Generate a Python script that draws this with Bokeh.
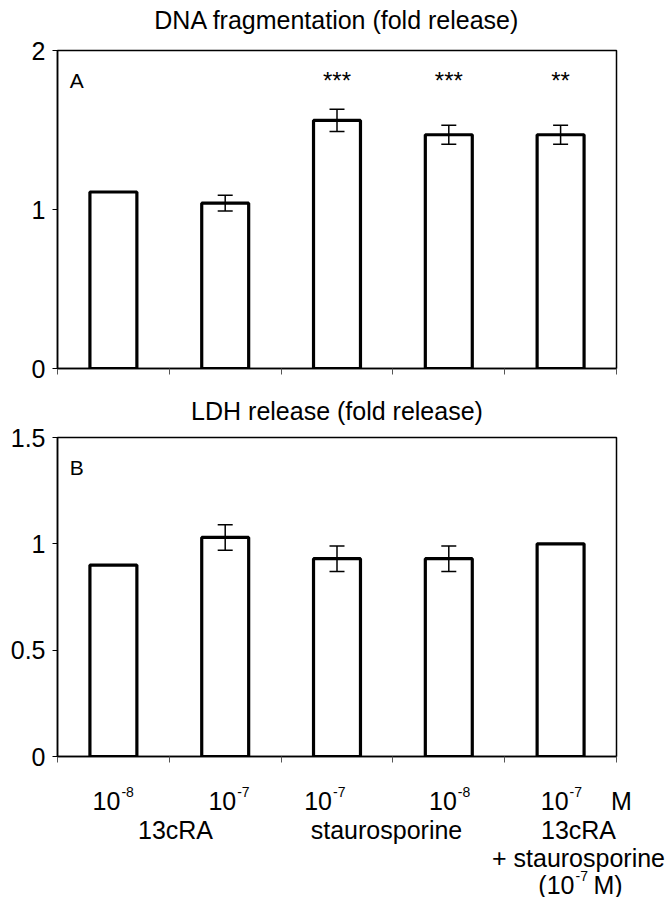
from bokeh.plotting import figure
from bokeh.models import (Range1d, FixedTicker, Whisker, TeeHead, ColumnDataSource,
                          Label, NumeralTickFormatter)
from bokeh.layouts import column
from bokeh.embed import file_html
from bokeh.resources import INLINE
from bokeh.core.properties import value

# ---- data ----
categories = ["13cRA 1e-8", "13cRA 1e-7", "staurosporine 1e-7",
              "staurosporine 1e-8", "13cRA 1e-7 + staurosporine 1e-7"]
dna_values = [1.11, 1.04, 1.56, 1.47, 1.47]
dna_errors = [0.0, 0.05, 0.07, 0.06, 0.06]
dna_stars = ["", "", "***", "***", "**"]
ldh_values = [0.90, 1.03, 0.93, 0.93, 1.00]
ldh_errors = [0.0, 0.06, 0.06, 0.06, 0.0]
conc_base = ["10", "10", "10", "10", "10"]
conc_exp = ["-8", "-7", "-7", "-8", "-7"]
conc_unit = "M"
group_names = ["13cRA", "staurosporine", "13cRA", "+ staurosporine"]
combo_conc = ("(10", "-7", "M)")
title_a = "DNA fragmentation (fold release)"
title_b = "LDH release (fold release)"

# ---- layout constants ----
FONT = "Liberation Sans"
FS = "25px"
W = 668
LEFT, RIGHT = 57, 616
UNIT = (RIGHT - LEFT) / 5.0
xs = [i + 0.5 for i in range(len(categories))]


def px2x(px):
    return (px - LEFT) / UNIT


def text_strip(height, title, center_y):
    s = figure(width=W, height=height, x_range=Range1d(0, W), y_range=Range1d(height, 0),
               x_axis_type=None, y_axis_type=None, output_backend="svg",
               toolbar_location=None, min_border=0)
    s.frame_align = False
    s.grid.visible = False
    s.outline_line_color = None
    s.text(x=[(LEFT + RIGHT) / 2], y=[center_y], text=[title], text_font=value(FONT),
           text_font_size=FS, text_align="center", text_baseline="middle",
           text_color="black")
    return s


def make_panel(values, errors, ymax, yticks, height, btop, bbot, letter):
    p = figure(width=W, height=height, x_range=Range1d(0, 5), y_range=Range1d(0, ymax),
               output_backend="svg", toolbar_location=None,
               min_border_left=LEFT, min_border_right=W - RIGHT,
               min_border_top=btop, min_border_bottom=bbot)
    p.frame_align = False
    p.grid.visible = False
    p.outline_line_color = "black"
    p.outline_line_width = 1.5

    p.yaxis.ticker = FixedTicker(ticks=yticks, minor_ticks=[])
    p.yaxis.formatter = NumeralTickFormatter(format="0.[0]")
    p.yaxis.major_tick_in = 0
    p.yaxis.major_tick_out = 5
    p.yaxis.major_tick_line_color = "black"
    p.yaxis.axis_line_color = "black"
    p.yaxis.axis_line_width = 1.5
    p.yaxis.major_label_text_font = FONT
    p.yaxis.major_label_text_font_size = FS
    p.yaxis.major_label_text_color = "black"
    p.yaxis.major_label_standoff = 7

    boundaries = list(range(len(categories) + 1))
    p.xaxis.ticker = FixedTicker(ticks=boundaries, minor_ticks=[])
    p.xaxis.major_label_overrides = {b: "" for b in boundaries}
    p.xaxis.major_tick_in = 0
    p.xaxis.major_tick_out = 6
    p.xaxis.major_tick_line_color = "#555555"
    p.xaxis.axis_line_color = "black"
    p.xaxis.axis_line_width = 1.5

    src = ColumnDataSource(dict(x=xs, top=values))
    p.vbar(x="x", top="top", bottom=0, width=0.42, source=src,
           fill_color="white", line_color="black", line_width=3.2)

    ex = [x for x, e in zip(xs, errors) if e > 0]
    ev = [v for v, e in zip(values, errors) if e > 0]
    ee = [e for e in errors if e > 0]
    esrc = ColumnDataSource(dict(x=ex, upper=[v + e for v, e in zip(ev, ee)],
                                 lower=[v - e for v, e in zip(ev, ee)]))
    w = Whisker(base="x", upper="upper", lower="lower", source=esrc,
                line_color="black", line_width=1.5, level="annotation",
                upper_head=TeeHead(size=15, line_width=1.5, line_color="black"),
                lower_head=TeeHead(size=15, line_width=1.5, line_color="black"))
    p.add_layout(w)

    p.add_layout(Label(x=0.11, y=ymax * 0.905, text=letter, text_font=FONT,
                       text_font_size="21px", text_align="left", text_baseline="middle",
                       text_color="black"))
    return p


# title A strip: 0..36, panel A: 36..390 (frame 50..368)
tA = text_strip(36, title_a, 19)
p1 = make_panel(dna_values, dna_errors, 2, [0, 1, 2], 354, 14, 22, "A")
star_x = [x for x, s in zip(xs, dna_stars) if s]
star_t = [s for s in dna_stars if s]
p1.text(x=star_x, y=1.81, text=star_t, text_font=value(FONT), text_font_size="24px",
        text_align="center", text_baseline="middle", text_color="black")

# title B strip: 390..425, panel B: 425..778 (frame 437..756)
tB = text_strip(35, title_b, 20)
p2 = make_panel(ldh_values, ldh_errors, 1.5, [0, 0.5, 1, 1.5], 353, 12, 22, "B")

# ---- label strip under the bottom panel (same x scale, full-width frame) ----
STRIP_TOP = 778
STRIP_H = 897 - STRIP_TOP
strip = figure(width=W, height=STRIP_H, x_range=Range1d(px2x(0), px2x(W)),
               y_range=Range1d(STRIP_H, 0), x_axis_type=None, y_axis_type=None,
               output_backend="svg", toolbar_location=None, min_border=0)
strip.frame_align = False
strip.grid.visible = False
strip.outline_line_color = None


def ry(abs_px):
    return abs_px - STRIP_TOP


ROW1, ROW2, ROW3, ROW4 = 800, 829, 857, 884
EXP_UP = 9
conc_dx = [0, 4, -12, 1, 1]  # small px shifts of the concentration labels
cx = [x + d / UNIT for x, d in zip(xs, conc_dx)]

strip.text(x=cx, y=ry(ROW1), text=conc_base, text_font=value(FONT), text_font_size=FS,
           text_align="right", text_baseline="middle", text_color="black", x_offset=7)
strip.text(x=cx, y=ry(ROW1 - EXP_UP), text=conc_exp, text_font=value(FONT),
           text_font_size="14px", text_align="left", text_baseline="middle",
           text_color="black", x_offset=8)
strip.text(x=[px2x(621)], y=ry(ROW1), text=[conc_unit], text_font=value(FONT),
           text_font_size=FS, text_align="center", text_baseline="middle", text_color="black")

gx = [px2x(175), px2x(386), px2x(578), px2x(578)]
gy = [ry(ROW2), ry(ROW2), ry(ROW2), ry(ROW3)]
strip.text(x=gx, y=gy, text=group_names, text_font=value(FONT), text_font_size=FS,
           text_align="center", text_baseline="middle", text_color="black")

# "(10-7 M)"
cc = px2x(574)
strip.text(x=[cc], y=ry(ROW4), text=[combo_conc[0]], text_font=value(FONT),
           text_font_size=FS, text_align="right", text_baseline="middle",
           text_color="black")
strip.text(x=[cc], y=ry(ROW4 - EXP_UP), text=[combo_conc[1]], text_font=value(FONT),
           text_font_size="14px", text_align="left", text_baseline="middle",
           text_color="black", x_offset=1)
strip.text(x=[cc], y=ry(ROW4), text=[combo_conc[2]], text_font=value(FONT),
           text_font_size=FS, text_align="left", text_baseline="middle",
           text_color="black", x_offset=19)

layout = column(tA, p1, tB, p2, strip, spacing=0)
open("out.html", "w").write(file_html(layout, INLINE))
